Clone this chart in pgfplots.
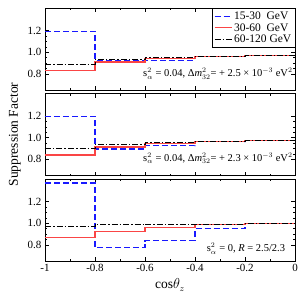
\documentclass[border=0pt]{standalone}
\usepackage{fontspec}
\setmainfont{Liberation Serif}
\usepackage{pgfplots}
\pgfplotsset{compat=1.18}
\definecolor{myred}{rgb}{0.98,0.27,0.27}
\definecolor{myblue}{rgb}{0.1,0.1,1}
\begin{document}
\begin{tikzpicture}
\useasboundingbox (-45pt,8pt) rectangle (254pt,-285pt);
\pgfplotsset{
  panel/.style={width=250pt,height=82pt,scale only axis,
    xmin=-1,xmax=0,ymin=0.65,ymax=1.41,
    xtick={-1,-0.8,-0.6,-0.4,-0.2,0}, minor x tick num=1,
    ytick={0.8,1.0,1.2}, yticklabels={0.8,1.0,1.2}, minor y tick num=3,
    major tick length=4pt, minor tick length=2pt,
    axis line style={line width=0.7pt},
    every tick/.style={black, line width=0.5pt},
    tick label style={font=\fontsize{11}{12}\selectfont},
    /pgf/number format/assume math mode=true},
  serA/.style={draw=myblue, mark=none, line width=1.2pt, dash pattern=on 6pt off 3pt, const plot},
  serB/.style={draw=myred, mark=none, line width=1.2pt, const plot},
  serC/.style={draw=black, mark=none, line width=0.8pt, dash pattern=on 6pt off 2pt on 1.5pt off 2pt, const plot},
}
\begin{axis}[panel, name=a1, at={(0,0)}, anchor=north west, xticklabels={},
  legend style={at={(1,1)}, anchor=north east, draw=black, line width=0.5pt,
    font=\fontsize{11.5}{12}\selectfont, row sep=-1.5pt, inner sep=1.5pt},
  legend image post style={line width=1pt},
  legend cell align=left]
\addplot[serA] coordinates {(-1,1.195) (-0.8,0.925) (-0.6,0.925) (-0.4,0.96) (-0.2,0.972) (0,0.972)};
\addlegendentry{15-30~~GeV}
\addplot[serB] coordinates {(-1,0.834) (-0.8,0.91) (-0.6,0.944) (-0.4,0.96) (-0.2,0.972) (0,0.972)};
\addlegendentry{30-60~~GeV}
\addplot[serC] coordinates {(-1,0.89) (-0.8,0.934) (-0.6,0.956) (-0.4,0.962) (-0.2,0.974) (0,0.974)};
\addlegendentry{60-120 GeV}
\node[anchor=east, font=\fontsize{10.5}{12}\selectfont, inner sep=1pt] at (rel axis cs:0.995,0.2)
  {s$^2_\alpha$ = 0.04, Δ\textit{m}$^2_{32}$= + 2.5 × 10$^{-3}$ eV$^2$};
\end{axis}
\begin{axis}[panel, name=a2, at={(0,-85.5pt)}, anchor=north west, xticklabels={},
  ylabel={Suppression Factor}, ylabel style={font=\fontsize{13.5}{15}\selectfont}]
\addplot[serA] coordinates {(-1,1.197) (-0.8,0.895) (-0.6,0.925) (-0.4,0.963) (-0.2,0.972) (0,0.972)};
\addplot[serB] coordinates {(-1,0.84) (-0.8,0.915) (-0.6,0.947) (-0.4,0.966) (-0.2,0.972) (0,0.972)};
\addplot[serC] coordinates {(-1,0.897) (-0.8,0.94) (-0.6,0.953) (-0.4,0.968) (-0.2,0.974) (0,0.974)};
\node[anchor=east, font=\fontsize{10.5}{12}\selectfont, inner sep=1pt] at (rel axis cs:0.995,0.21)
  {s$^2_\alpha$ = 0.04, Δ\textit{m}$^2_{32}$= + 2.3 × 10$^{-3}$ eV$^2$};
\end{axis}
\begin{axis}[panel, name=a3, at={(0,-171pt)}, anchor=north west,
  xticklabels={-1,-0.8,-0.6,-0.4,-0.2,0},
  xlabel={cos$\theta_z$}, xlabel style={font=\fontsize{13.5}{15}\selectfont}]
\addplot[serA] coordinates {(-1,1.373) (-0.8,0.775) (-0.6,0.84) (-0.4,0.948) (-0.2,0.997) (0,0.997)};
\addplot[serB] coordinates {(-1,0.866) (-0.8,0.927) (-0.6,0.96) (-0.4,0.985) (-0.2,0.997) (0,0.997)};
\addplot[serC] coordinates {(-1,0.97) (-0.8,0.993) (-0.6,0.988) (-0.4,0.99) (-0.2,0.998) (0,0.998)};
\node[anchor=east, font=\fontsize{10.5}{12}\selectfont, inner sep=1pt] at (rel axis cs:0.965,0.15)
  {s$^2_\alpha$ = 0, \textit{R} = 2.5/2.3};
\end{axis}
\end{tikzpicture}
\end{document}
